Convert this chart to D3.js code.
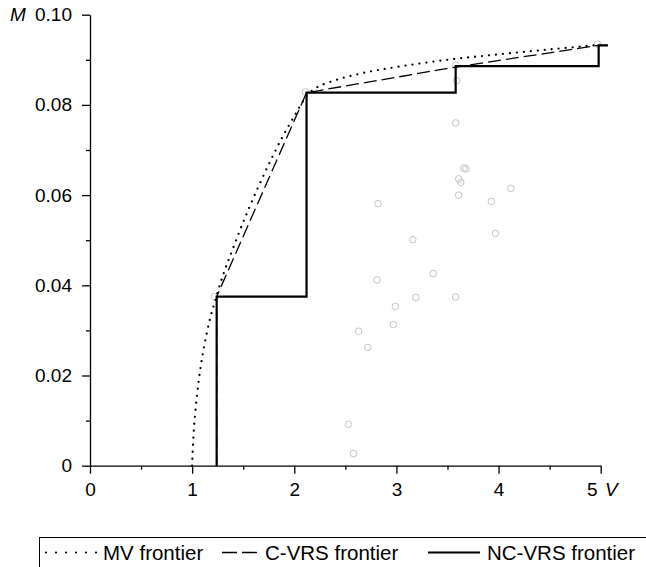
<!DOCTYPE html>
<html><head><meta charset="utf-8">
<script src="https://cdn.jsdelivr.net/npm/d3@7"></script>
<style>
html,body{margin:0;padding:0;background:#fff;}
svg{display:block;font-family:"Liberation Sans",Arial,Helvetica,sans-serif;}
</style></head>
<body>
<svg id="chart" width="646" height="567"></svg>
<script>
// ---- data ----
const xTicks = [0, 1, 2, 3, 4, 5];
const xTickLabels = ["0", "1", "2", "3", "4", "5"];
const xMinorTicks = [0.5, 1.5, 2.5, 3.5, 4.5];
const yTicks = [0, 0.02, 0.04, 0.06, 0.08, 0.10];
const yTickLabels = ["0", "0.02", "0.04", "0.06", "0.08", "0.10"];
const yMinorTicks = [0.01, 0.03, 0.05, 0.07, 0.09];

// observed units (V, M)
const pointV = [2.11, 3.58, 3.59, 3.58, 4.97, 1.22, 3.66, 3.68, 3.61, 3.63, 4.12, 3.61, 3.93, 2.82, 3.97, 3.16, 3.36, 2.81, 3.19, 3.58, 2.99, 2.97, 2.63, 2.72, 2.53, 2.58];
const pointM = [0.0829, 0.0888, 0.0854, 0.0760, 0.0935, 0.0375, 0.0660, 0.0658, 0.0636, 0.0628, 0.0615, 0.0600, 0.0586, 0.0581, 0.0515, 0.0501, 0.0426, 0.0412, 0.0373, 0.0374, 0.0353, 0.0313, 0.0298, 0.0262, 0.0092, 0.0027];

// MV frontier (dotted)
const mvV = [1.00, 1.005, 1.02, 1.045, 1.07, 1.10, 1.14, 1.18, 1.22, 1.27, 1.33, 1.40, 1.50, 1.62, 1.75, 1.88, 2.00, 2.08, 2.15, 2.25, 2.45, 2.70, 3.00, 3.50, 4.00, 4.50, 4.98];
const mvM = [0.000, 0.003, 0.009, 0.015, 0.0198, 0.0243, 0.0290, 0.0330, 0.0362, 0.0400, 0.0440, 0.0482, 0.0540, 0.0604, 0.0668, 0.0727, 0.0775, 0.0806, 0.0827, 0.0842, 0.0858, 0.0872, 0.0884, 0.0900, 0.0912, 0.0923, 0.0933];

// C-VRS frontier (dashed)
const cvrsV = [1.24, 1.24, 2.12, 3.58, 4.98, 5.07];
const cvrsM = [0.000, 0.0375, 0.0827, 0.0884, 0.0932, 0.0932];

// NC-VRS frontier (solid, staircase)
const ncV = [1.24, 1.24, 2.12, 2.12, 3.58, 3.58, 4.98, 4.98, 5.07];
const ncM = [0.000, 0.0375, 0.0375, 0.0827, 0.0827, 0.0886, 0.0886, 0.0932, 0.0932];

const legendLabels = ["MV frontier", "C-VRS frontier", "NC-VRS frontier"];

// ---- drawing ----
const svg = d3.select("#chart");
const x = d3.scaleLinear().domain([0, 5]).range([90, 600.7]);
const y = d3.scaleLinear().domain([0, 0.1]).range([465.7, 14.7]);
const FS = 19;

// scatter
svg.append("g").selectAll("circle").data(pointV.map((v, i) => [v, pointM[i]]))
  .join("circle")
  .attr("cx", d => x(d[0])).attr("cy", d => y(d[1])).attr("r", 3.3)
  .attr("fill", "none").attr("stroke", "#c4c4c4").attr("stroke-width", 1);

const line = d3.line().x(d => x(d[0])).y(d => y(d[1]));

// MV dotted
svg.append("path")
  .datum(mvV.map((v, i) => [v, mvM[i]]))
  .attr("d", line.curve(d3.curveCatmullRom.alpha(0.5)))
  .attr("fill", "none").attr("stroke", "#000").attr("stroke-width", 2.3)
  .attr("stroke-linecap", "round").attr("stroke-dasharray", "0,7");

// C-VRS dashed
svg.append("path")
  .datum(cvrsV.map((v, i) => [v, cvrsM[i]]))
  .attr("d", d3.line().x(d => x(d[0])).y(d => y(d[1])))
  .attr("fill", "none").attr("stroke", "#000").attr("stroke-width", 1.3)
  .attr("stroke-dasharray", "13,5");

// NC-VRS solid
svg.append("path")
  .datum(ncV.map((v, i) => [v, ncM[i]]))
  .attr("d", d3.line().x(d => x(d[0])).y(d => y(d[1])))
  .attr("fill", "none").attr("stroke", "#000").attr("stroke-width", 2.2);

// axes
const xAxis = svg.append("g").attr("transform", `translate(0,${y(0)})`)
  .call(d3.axisBottom(x).tickValues(xTicks).tickFormat((d, i) => xTickLabels[i]).tickSize(8).tickSizeOuter(0).tickPadding(9));
svg.append("g").attr("transform", `translate(0,${y(0)})`)
  .call(d3.axisBottom(x).tickValues(xMinorTicks).tickFormat("").tickSize(4).tickSizeOuter(0))
  .select(".domain").remove();
const yAxis = svg.append("g").attr("transform", `translate(${x(0)},0)`)
  .call(d3.axisLeft(y).tickValues(yTicks).tickFormat((d, i) => yTickLabels[i]).tickSize(8).tickSizeOuter(0).tickPadding(10));
svg.append("g").attr("transform", `translate(${x(0)},0)`)
  .call(d3.axisLeft(y).tickValues(yMinorTicks).tickFormat("").tickSize(4).tickSizeOuter(0))
  .select(".domain").remove();

svg.selectAll(".tick line").attr("stroke", "#000").attr("stroke-width", 1.3);
svg.selectAll(".domain").attr("stroke", "#000").attr("stroke-width", 1.3);
svg.selectAll(".tick text").attr("font-size", FS).attr("fill", "#000")
  .attr("font-family", "'Liberation Sans',Arial,Helvetica,sans-serif");
// shift last x label to make room for axis name
xAxis.selectAll(".tick text").filter(d => d === 5).attr("dx", "-9");

// axis names
svg.append("text").attr("x", 10).attr("y", y(0.1)).attr("dy", "0.35em")
  .attr("font-size", FS).attr("font-style", "italic").text("M");
svg.append("text").attr("x", 605).attr("y", y(0) + 17).attr("dy", "0.71em")
  .attr("font-size", FS).attr("font-style", "italic").text("V");

// legend
const lg = svg.append("g");
lg.append("rect").attr("x", 39.5).attr("y", 537.5).attr("width", 700).attr("height", 100)
  .attr("fill", "none").attr("stroke", "#000").attr("stroke-width", 1);
const ly = 552.5;
const items = [
  {x1: 46, x2: 97, tx: 103, dash: "0,10", w: 2.2, cap: "round"},
  {x1: 222, x2: 257, tx: 265, dash: "15,5", w: 1.3, cap: "butt"},
  {x1: 428, x2: 480, tx: 487, dash: null, w: 2.2, cap: "butt"}
];
items.forEach((it, i) => {
  lg.append("line").attr("x1", it.x1).attr("x2", it.x2).attr("y1", ly).attr("y2", ly)
    .attr("stroke", "#000").attr("stroke-width", it.w).attr("stroke-linecap", it.cap)
    .attr("stroke-dasharray", it.dash);
  lg.append("text").attr("x", it.tx).attr("y", ly).attr("dy", "0.35em")
    .attr("font-size", 20.5).text(legendLabels[i]);
});
</script>
</body></html>
